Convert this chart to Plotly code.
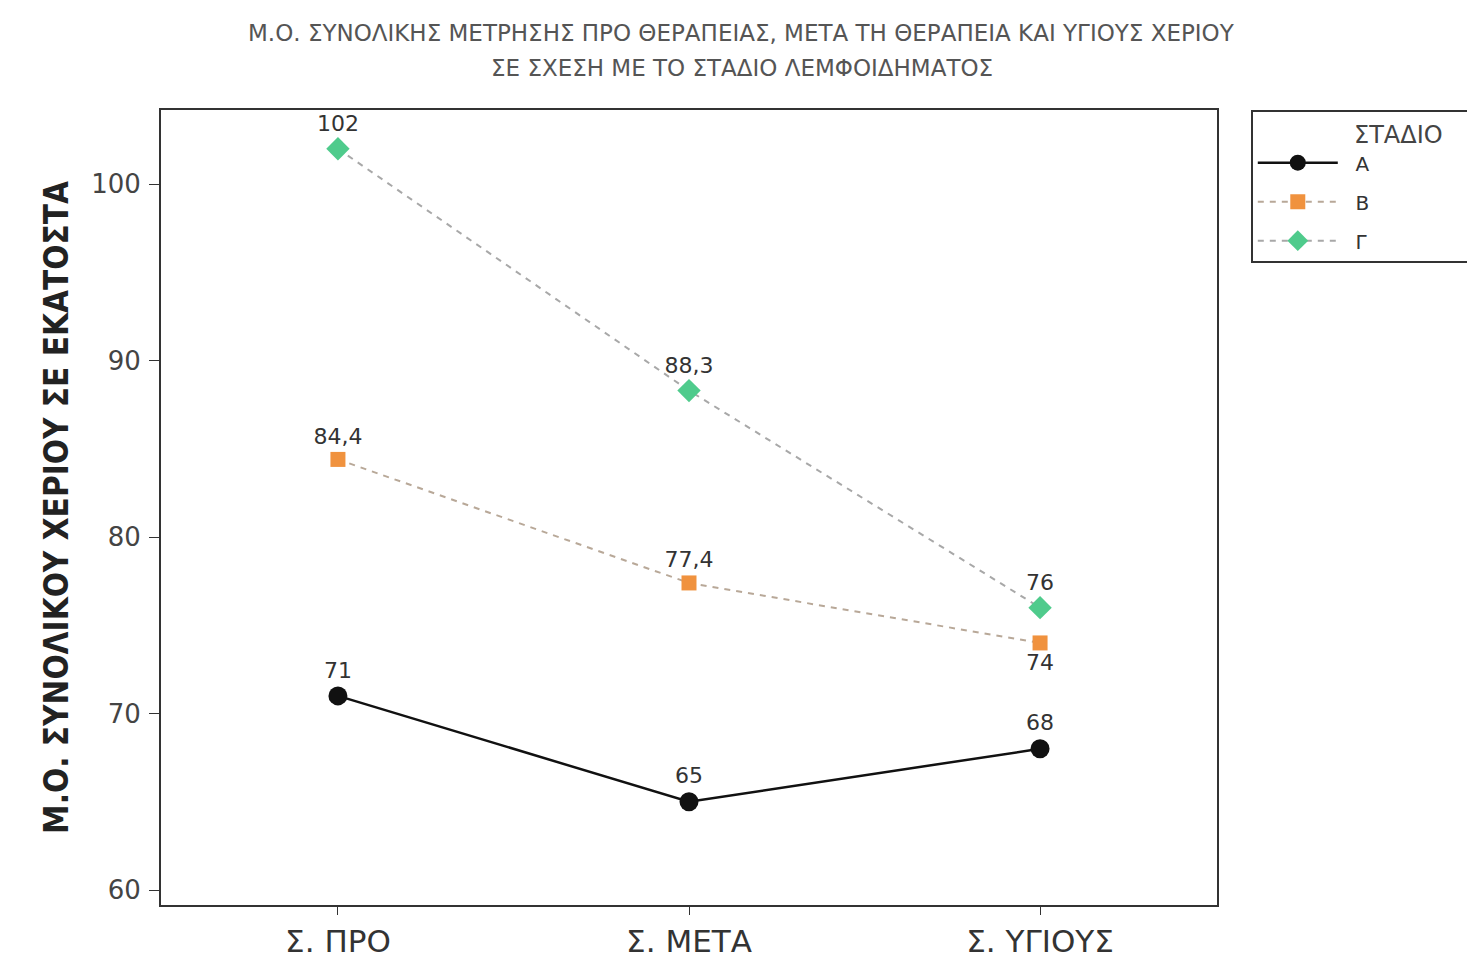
import plotly.graph_objects as go

categories = ["Σ. ΠΡΟ", "Σ. ΜΕΤΑ", "Σ. ΥΓΙΟΥΣ"]
stage_a = [71, 65, 68]
stage_b = [84.4, 77.4, 74]
stage_g = [102, 88.3, 76]
series_names = ["Α", "Β", "Γ"]
title_lines = ["Μ.Ο. ΣΥΝΟΛΙΚΗΣ ΜΕΤΡΗΣΗΣ ΠΡΟ ΘΕΡΑΠΕΙΑΣ, ΜΕΤΑ ΤΗ ΘΕΡΑΠΕΙΑ ΚΑΙ ΥΓΙΟΥΣ ΧΕΡΙΟΥ",
               "ΣΕ ΣΧΕΣΗ ΜΕ ΤΟ ΣΤΑΔΙΟ ΛΕΜΦΟΙΔΗΜΑΤΟΣ"]
y_title = "Μ.Ο. ΣΥΝΟΛΙΚΟΥ ΧΕΡΙΟΥ ΣΕ ΕΚΑΤΟΣΤΑ"
legend_title = "ΣΤΑΔΙΟ"

label_font = dict(size=22, color="#333333", family="DejaVu Sans")
pad = "\u00a0\u00a0"

fig = go.Figure()
fig.add_trace(go.Scatter(
    x=categories, y=stage_a, name=pad + series_names[0], legendgroup="a",
    mode="lines+markers+text",
    line=dict(color="#111111", width=2.5),
    marker=dict(symbol="circle", size=19, color="#111111"),
    texttemplate="%{y}", textposition="top center", textfont=label_font,
))
fig.add_trace(go.Scatter(
    x=categories, y=stage_b, name=pad + series_names[1], legendgroup="b",
    mode="lines+markers+text",
    line=dict(color="#b8a898", width=2, dash="6px,6px"),
    marker=dict(symbol="square", size=15, color="#f0923e"),
    texttemplate="%{y}", textposition=["top center", "top center", "bottom center"],
    textfont=label_font,
))
fig.add_trace(go.Scatter(
    x=categories, y=stage_g, name=pad + series_names[2], legendgroup="g",
    mode="lines+markers+text",
    line=dict(color="#a8a8a8", width=2, dash="6px,6px"),
    marker=dict(symbol="diamond", size=18, color="#4fcb8c"),
    texttemplate="%{y}", textposition="top center", textfont=label_font,
))

for i, line in enumerate(title_lines):
    fig.add_annotation(
        text=line, xref="paper", yref="paper", x=0.55, y=1.0,
        xanchor="center", yanchor="middle", showarrow=False,
        yshift=[77, 42][i],
        font=dict(size=23, color="#555555", family="DejaVu Sans"),
    )

fig.update_layout(
    width=1475, height=968,
    separators=",.",
    paper_bgcolor="white", plot_bgcolor="white",
    margin=dict(l=153, r=266, t=102, b=71, autoexpand=False),
    font=dict(family="DejaVu Sans", color="#333333"),
    legend=dict(
        title=dict(text="\u00a0" * 13 + legend_title + "\u00a0" * 4,
                   font=dict(size=24, color="#444444")),
        x=1.032, y=1.0, xanchor="left", yanchor="top",
        bordercolor="#333333", borderwidth=2, bgcolor="white",
        font=dict(size=20, color="#333333"),
        itemwidth=80, tracegroupgap=10,
    ),
    showlegend=True,
)
fig.update_xaxes(
    range=[-0.504, 2.504], showgrid=False, showline=True, linecolor="#333333",
    linewidth=2, mirror=True, ticks="outside", ticklen=8, tickcolor="#333333",
    tickfont=dict(size=31, color="#333333"),
)
fig.update_yaxes(
    range=[59.15, 104.2], showgrid=False, showline=True, linecolor="#333333",
    linewidth=2, mirror=True, ticks="outside", ticklen=10, tickcolor="#333333",
    ticklabelstandoff=3,
    tickvals=[60, 70, 80, 90, 100], tickfont=dict(size=26, color="#444444"),
    zeroline=False,
    title=dict(text="<b>" + y_title + "</b>", standoff=13,
               font=dict(size=33, color="#222222", family="DejaVu Sans Condensed")),
)

fig.write_html("out.html")
